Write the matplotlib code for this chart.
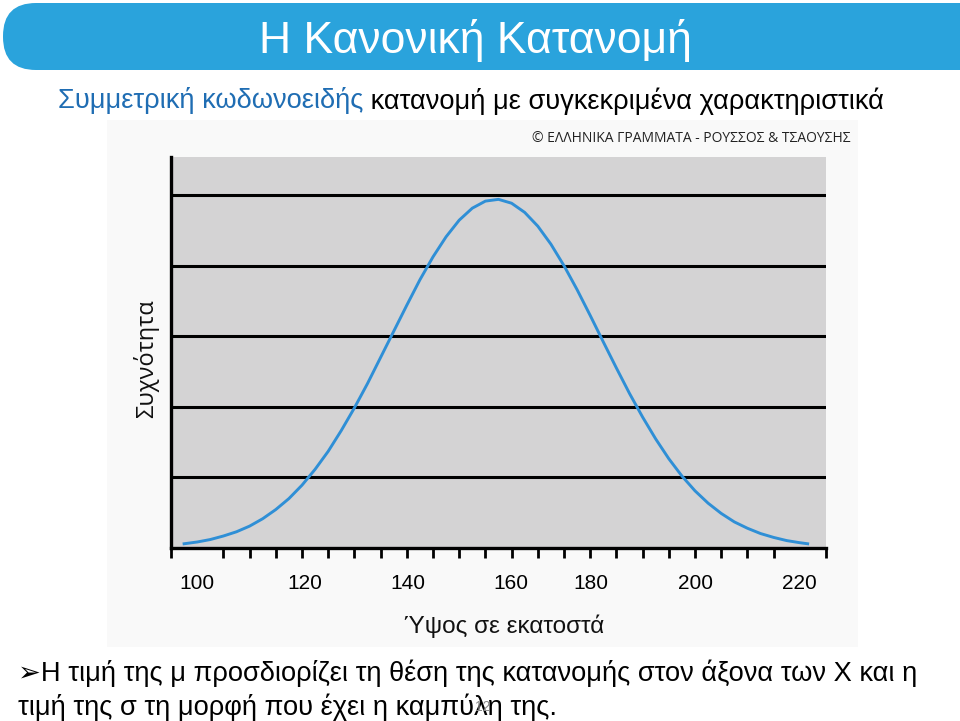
import numpy as np
import matplotlib
matplotlib.use("Agg")
import matplotlib.pyplot as plt
from matplotlib import font_manager
from matplotlib.patches import FancyBboxPatch, Rectangle

# height in cm vs frequency (grid units)
heights = [97.5, 100, 102.5, 105, 107.5, 110, 112.5, 115, 117.5, 120, 122.5, 125,
           127.5, 130, 132.5, 135, 137.5, 140, 142.5, 145, 147.5, 150, 152.5, 155,
           157.5, 160, 162.5, 165, 167.5, 170, 172.5, 175, 177.5, 180, 182.5, 185,
           187.5, 190, 192.5, 195, 197.5, 200, 202.5, 205, 207.5, 210, 212.5, 215, 216.5]
freq = [0.06, 0.085, 0.12, 0.17, 0.23, 0.31, 0.415, 0.545, 0.70, 0.89, 1.115, 1.37,
        1.665, 1.985, 2.33, 2.70, 3.07, 3.44, 3.80, 4.125, 4.41, 4.645, 4.815, 4.915,
        4.94, 4.885, 4.755, 4.56, 4.305, 4.00, 3.66, 3.295, 2.92, 2.55, 2.19, 1.855,
        1.545, 1.265, 1.02, 0.81, 0.635, 0.49, 0.37, 0.28, 0.205, 0.15, 0.105, 0.075, 0.06]

# tick labels as printed in the figure (and where they sit on the axis)
tick_labels = ["100", "120", "140", "160", "180", "200", "220"]
tick_at = [100, 120.5, 140.3, 159.9, 175.1, 195.1, 215]

title = "Η Κανονική Κατανομή"
sub_blue = "Συμμετρική κωδωνοειδής"
sub_black = " κατανομή με συγκεκριμένα χαρακτηριστικά"
bullet1 = "Η τιμή της μ προσδιορίζει τη θέση της κατανομής στον άξονα των Χ και η"
bullet2 = "τιμή της σ τη μορφή που έχει η καμπύλη της."

names = {f.name for f in font_manager.fontManager.ttflist}
narrow = "Liberation Sans Narrow" if "Liberation Sans Narrow" in names else "Liberation Sans"

W, H = 960, 721
fig = plt.figure(figsize=(W / 100, H / 100), dpi=100)

# background layer in pixel coordinates
bg = fig.add_axes([0, 0, 1, 1])
bg.set_xlim(0, W)
bg.set_ylim(H, 0)
bg.axis("off")

bg.add_patch(FancyBboxPatch((3, 3), 1100, 67, boxstyle="round,pad=0,rounding_size=33",
                            fc="#2aa3dc", ec="none"))
bg.text(475, 40, title, color="white", fontsize=37 if narrow != "Liberation Sans" else 32,
        ha="center", va="center", family=narrow)

t = bg.text(58, 101, sub_blue, color="#1f6db3", fontsize=19.6, ha="left", va="center",
            family="Liberation Sans")
fig.canvas.draw()
bb = t.get_window_extent()
bg.text(58 + bb.width, 101, sub_black, color="black", fontsize=19.6, ha="left", va="center",
        family="Liberation Sans")

bg.add_patch(Rectangle((107, 120), 751, 527, fc="#f9f9f9", ec="none"))
bg.text(851, 138, "© ΕΛΛΗΝΙΚΑ ΓΡΑΜΜΑΤΑ - ΡΟΥΣΣΟΣ & ΤΣΑΟΥΣΗΣ", fontsize=10,
        ha="right", va="center", color="#222222", family="Open Sans")
bg.text(146, 359, "Συχνότητα", fontsize=17, rotation=90, ha="center", va="center",
        color="#111111", family="Open Sans")
bg.text(504, 626, "Ύψος σε εκατοστά", fontsize=17.5, ha="center", va="center",
        color="#111111", family="Liberation Sans")

bg.text(18, 673, "➢" + bullet1, fontsize=19.6, ha="left", va="center",
        family=["Liberation Sans", "DejaVu Sans"])
bg.text(18, 707, bullet2, fontsize=19.6, ha="left", va="center", family="Liberation Sans")
bg.text(483, 707, "12", fontsize=10, ha="center", va="center", color="#888888",
        family="Liberation Sans")

# chart
ax = fig.add_axes([171 / W, 1 - 548 / H, 655 / W, 391 / H])
ax.set_facecolor("#d4d3d4")
ax.set_xlim(95, 220)
ax.set_ylim(0, 5.54)
for v in range(1, 6):
    ax.axhline(v, color="black", lw=2.2, zorder=1)
ax.plot(heights, freq, color="#2f8fd6", lw=2.1, zorder=3)

for s in ["top", "right"]:
    ax.spines[s].set_visible(False)
for s in ["left", "bottom"]:
    ax.spines[s].set_linewidth(2.4)
    ax.spines[s].set_color("black")

ax.set_yticks([])
ax.set_xticks(tick_at, tick_labels)
ax.set_xticks(np.arange(95, 221, 5), minor=True)
ax.tick_params(axis="x", which="major", length=0, pad=19, labelsize=15)
ax.tick_params(axis="x", which="minor", length=7, width=2, color="black", direction="out")
for lab in ax.get_xticklabels():
    lab.set_family("Liberation Sans")

fig.savefig("out.png", dpi=100)
